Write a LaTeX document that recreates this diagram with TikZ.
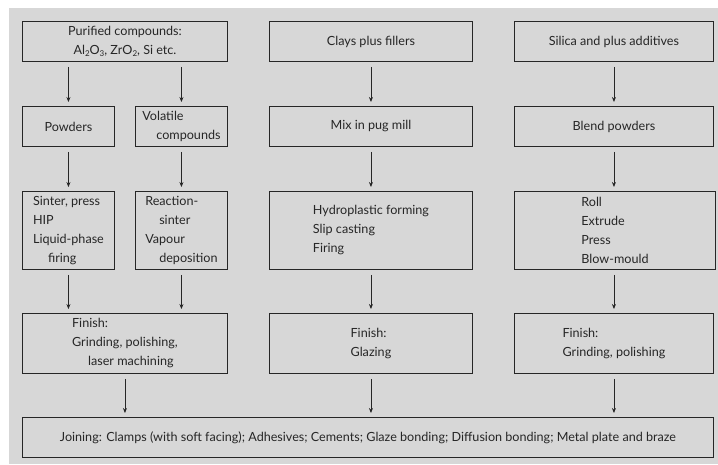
\documentclass[tikz,border=0pt]{standalone}
\usepackage{fontspec}
\setmainfont{Lato}
\usetikzlibrary{arrows.meta}
\definecolor{panel}{HTML}{D7D7D7}
\definecolor{ink}{HTML}{262626}
% chemical subscript, set low as in the printed formulae
\newcommand\chemsub[1]{\raisebox{-0.45ex}{\footnotesize #1}}
\begin{document}
\begin{tikzpicture}[x=1pt,y=-1pt,
  box/.style n args={2}{draw=ink, line width=0.9pt, fill=panel, text=ink,
    inner sep=0pt, align=left, anchor=north west,
    font=\fontsize{12.6}{19}\selectfont,
    minimum width=#1pt, minimum height=#2pt},
  arr/.style={draw=ink, line width=0.7pt, -{Stealth[length=5pt,width=4pt]},
    shorten <=5pt, shorten >=4pt}]
\useasboundingbox (0,0) rectangle (718,464);
\fill[white] (0,0) rectangle (718,464);
\fill[panel] (9,8) rectangle (718,464);

% top row: raw materials
\node[box={205}{40}, align=center] (pur) at (22,21)
  {Purified compounds:\\Al\chemsub{2}O\chemsub{3}, ZrO\chemsub{2}, Si etc.};
\node[box={203}{40}] (clays) at (269,21) {Clays plus fillers};
\node[box={199}{40}] (silica) at (514,21) {Silica and plus additives};

% second row: preparation
\node[box={92}{40}] (powders) at (22,106) {Powders};
\node[box={92}{40}] (volatile) at (135,106) {Volatile\\\hspace*{14pt}compounds};
\node[box={203}{40}] (mix) at (269,106) {Mix in pug mill};
\node[box={199}{40}] (blend) at (514,106) {Blend powders};

% third row: forming
\node[box={92}{78}] (sinter) at (22,191)
  {Sinter, press\\HIP\\Liquid-phase\\\hspace*{15pt}firing};
\node[box={92}{78}] (reaction) at (135,191)
  {Reaction-\\\hspace*{14pt}sinter\\Vapour\\\hspace*{14pt}deposition};
\node[box={203}{78}] (hydro) at (269,191)
  {Hydroplastic forming\\Slip casting\\Firing};
\node[box={201}{78}] (roll) at (514,191)
  {Roll\\Extrude\\Press\\Blow-mould};

% fourth row: finishing
\node[box={205}{60}] (fin1) at (22,313)
  {Finish:\\Grinding, polishing,\\\hspace*{16pt}laser machining};
\node[box={203}{60}] (fin2) at (269,313) {Finish:\\Glazing};
\node[box={199}{60}] (fin3) at (514,313) {Finish:\\Grinding, polishing};

% bottom: joining
\node[box={691}{40}, align=center] (join) at (22,417)
  {Joining: Clamps (with soft facing); Adhesives; Cements; Glaze bonding; Diffusion bonding; Metal plate and braze};

% flow arrows
\draw[arr] (powders.north |- pur.south) -- (powders.north);
\draw[arr] (volatile.north |- pur.south) -- (volatile.north);
\draw[arr] (powders.south) -- (sinter.north);
\draw[arr] (volatile.south) -- (reaction.north);
\draw[arr] (sinter.south) -- (sinter.south |- fin1.north);
\draw[arr] (reaction.south) -- (reaction.south |- fin1.north);
\draw[arr] (fin1.south) -- (fin1.south |- join.north);

\draw[arr] (clays.south) -- (mix.north);
\draw[arr] (mix.south) -- (hydro.north);
\draw[arr] (hydro.south) -- (fin2.north);
\draw[arr] (fin2.south) -- (fin2.south |- join.north);

\draw[arr] (silica.south) -- (blend.north);
\draw[arr] (blend.south) -- (fin3.north |- roll.north);
\draw[arr] (fin3.north |- roll.south) -- (fin3.north);
\draw[arr] (fin3.south) -- (fin3.south |- join.north);
\end{tikzpicture}
\end{document}
